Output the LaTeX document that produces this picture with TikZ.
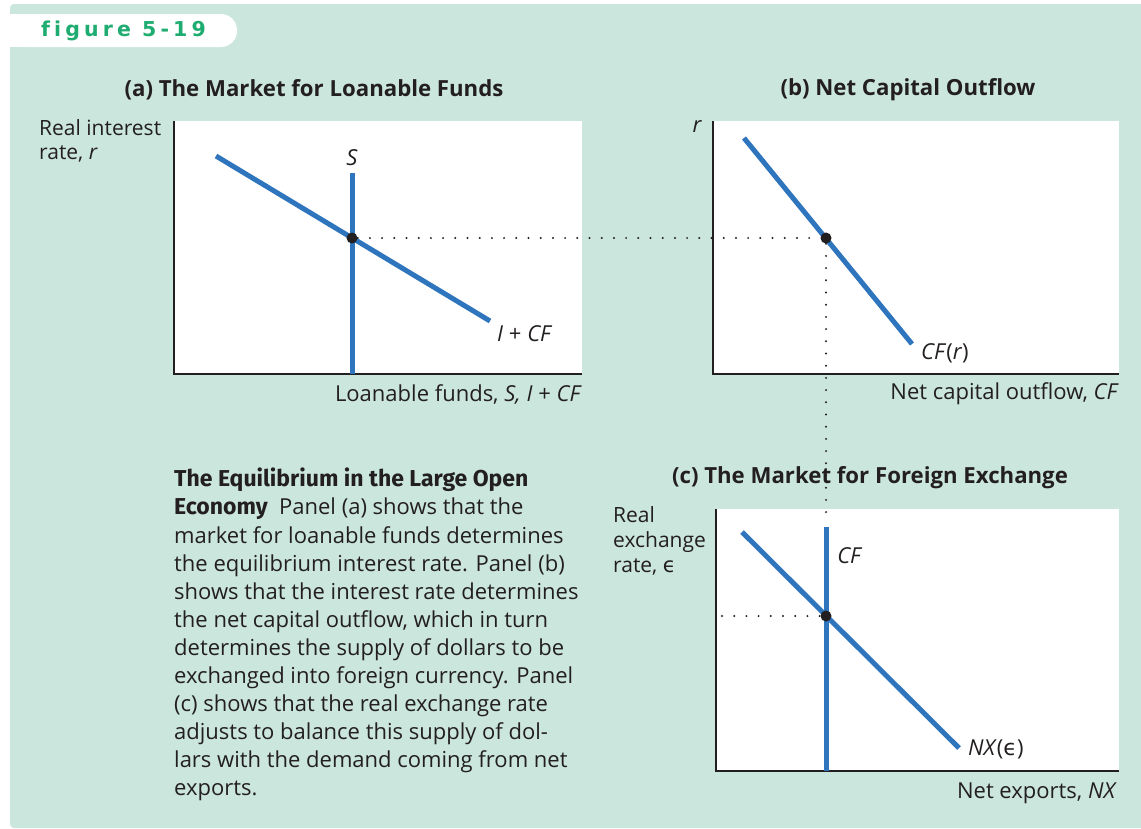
\documentclass[tikz,border=0pt]{standalone}
\usepackage{fontspec}
\setmainfont{Open Sans}
\newfontfamily\capheadfont{Fira Sans}
\newfontfamily\tabfont[LetterSpace=20,Ligatures=NoCommon]{DejaVu Sans}
\newfontfamily\epsfont{DejaVu Sans}
\newcommand{\eps}{{\epsfont ϵ}}
\definecolor{bggreen}{RGB}{203,230,220}
\definecolor{tabgreen}{RGB}{30,172,112}
\definecolor{curveblue}{RGB}{46,117,190}
\definecolor{ink}{RGB}{35,31,32}
\tikzset{
  plotbox/.style={fill=white},
  axis/.style={draw=ink, line width=1.4pt},
  curve/.style={draw=curveblue, line width=5pt},
  guide/.style={draw=ink, line width=2.2pt, line cap=round, dash pattern=on 0pt off 12.2pt},
  eqdot/.style={circle, fill=ink, inner sep=0pt, minimum size=11pt},
  lbl/.style={text=ink, inner sep=0pt, font=\fontsize{22}{26}\selectfont},
  ptitle/.style={text=ink, inner sep=0pt, font=\fontsize{22.2}{26}\selectfont\bfseries},
}
\begin{document}
\begin{tikzpicture}[x=1pt,y=-1pt]
\useasboundingbox (0,0) rectangle (1141,828);
\fill[white] (0,0) rectangle (1141,828);
\fill[bggreen, rounded corners=4pt] (10,4) rectangle (1145,828);
\fill[white, rounded corners=16pt] (10,14) -- (237,14) -- (237,47) -- (10,47) -- cycle;
\fill[white] (10,14) rectangle (30,47);
\node[anchor=west, text=tabgreen, inner sep=0pt, font=\tabfont\fontsize{20.5}{22}\selectfont\bfseries] (tab) at (41,31) {figure 5-19};

% ---------- panel (a)
\node[ptitle] (ta) at (314,90) {(a) The Market for Loanable Funds};
\fill[plotbox] (174,121) rectangle (582,374);
\draw[axis] (174,121) -- (174,374) -- (582,374);
\coordinate (a1) at (216,156);
\coordinate (a2) at (490,321);
\coordinate (s1) at (352,173);
\coordinate (s2) at (352,374);
\draw[curve] (a1) -- (a2);
\draw[curve] (s1) -- (s2);
\node[lbl, font=\fontsize{22}{26}\selectfont\itshape] (slab) at (352,158) {S};
\node[lbl, anchor=west] (iclab) at (497,334) {\textit{I} + \textit{CF}};
\node[lbl, anchor=north west, align=left, font=\fontsize{21}{24}\selectfont] (ya) at (39,119) {Real interest\\rate, \textit{r}};
\node[lbl, anchor=east] (xa) at (582,394) {Loanable funds, \textit{S, I} + \textit{CF}};

% ---------- panel (b)
\node[ptitle] (tb) at (908,90) {(b) Net Capital Outflow};
\fill[plotbox] (713,121) rectangle (1119,374);
\draw[axis] (713,121) -- (713,374) -- (1119,374);
\coordinate (b1) at (744,138);
\coordinate (b2) at (912,344);
\draw[curve] (b1) -- (b2);
\node[lbl, font=\fontsize{22}{26}\selectfont\itshape] (ylb) at (697,127) {r};
\node[lbl, anchor=west] (cfr) at (921,353) {\textit{CF}(\textit{r})};
\node[lbl, anchor=east] (xb) at (1119,394) {Net capital outflow, \textit{CF}};

% ---------- panel (c)
\node[ptitle] (tc) at (870,478) {(c) The Market for Foreign Exchange};
\fill[plotbox] (716,509) rectangle (1119,771);
\draw[axis] (716,509) -- (716,771) -- (1119,771);
\coordinate (c1) at (742,532);
\coordinate (c2) at (959,748);
\coordinate (cf1) at (826,527);
\coordinate (cf2) at (826,771);
\draw[curve] (c1) -- (c2);
\draw[curve] (cf1) -- (cf2);
\node[lbl, font=\fontsize{22}{26}\selectfont\itshape] (cflab) at (849,556) {CF};
\node[lbl, anchor=west] (nxlab) at (968,749) {\textit{NX}(\eps)};
\node[lbl, anchor=north west, align=left, font=\fontsize{21}{25}\selectfont] (yc) at (613,506) {Real\\exchange\\rate, \eps};
\node[lbl, anchor=east] (xc) at (1117,793) {Net exports, \textit{NX}};

% ---------- equilibria and guides
\node[eqdot] (ea) at (352,238) {};
\node[eqdot] (eb) at (826,238) {};
\node[eqdot] (ec) at (826,616) {};
\coordinate (gtop) at (826,517);
\coordinate (gl) at (722,616);
\draw[guide] (ea) -- (eb);
\draw[guide] (eb) -- (gtop);
\draw[guide] (gl) -- (ec);

% ---------- caption
\node[anchor=north west, inner sep=0pt, text=ink, align=left, font=\fontsize{22}{28.1}\selectfont] (cap) at (174,468) {%
{\capheadfont\fontsize{23}{28.1}\selectfont\bfseries The Equilibrium in the Large Open}\\
{\capheadfont\fontsize{23}{28.1}\selectfont\bfseries Economy}\ \ Panel (a) shows that the\\
market for loanable funds determines\\
the equilibrium interest rate. Panel (b)\\
shows that the interest rate determines\\
the net capital outflow, which in turn\\
determines the supply of dollars to be\\
exchanged into foreign currency. Panel\\
(c) shows that the real exchange rate\\
adjusts to balance this supply of dol-\\
lars with the demand coming from net\\
exports.};
\end{tikzpicture}
\end{document}
